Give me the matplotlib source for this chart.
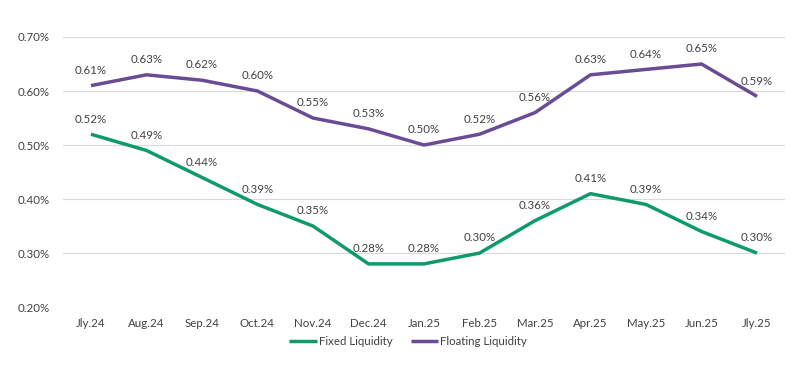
import matplotlib
matplotlib.use('Agg')
import matplotlib.pyplot as plt
from matplotlib.ticker import FuncFormatter

# data
months = ['Jly.24', 'Aug.24', 'Sep.24', 'Oct.24', 'Nov.24', 'Dec.24', 'Jan.25',
          'Feb.25', 'Mar.25', 'Apr.25', 'May.25', 'Jun.25', 'Jly.25']
fixed = [0.52, 0.49, 0.44, 0.39, 0.35, 0.28, 0.28, 0.30, 0.36, 0.41, 0.39, 0.34, 0.30]
floating = [0.61, 0.63, 0.62, 0.60, 0.55, 0.53, 0.50, 0.52, 0.56, 0.63, 0.64, 0.65, 0.59]

green = '#0e9a6c'
purple = '#6a4c94'
text_col = '#404040'

plt.rcParams['font.family'] = ['Lato', 'DejaVu Sans']

fig = plt.figure(figsize=(8, 3.7), dpi=100)
ax = fig.add_axes([0.079, 0.17, 0.902, 0.73])

x = list(range(len(months)))
l1, = ax.plot(x, fixed, color=green, lw=2.5, label='Fixed Liquidity', solid_capstyle='butt')
l2, = ax.plot(x, floating, color=purple, lw=2.5, label='Floating Liquidity', solid_capstyle='butt')

# point labels above each marker
for series in (fixed, floating):
    for xi, v in zip(x, series):
        ax.annotate('%.2f%%' % v, (xi, v), xytext=(0, 7), textcoords='offset points',
                    ha='center', va='bottom', fontsize=8.3, color=text_col)

ax.set_xlim(-0.5, len(months) - 0.5)
ax.set_ylim(0.20, 0.70)
ax.set_yticks([0.20, 0.30, 0.40, 0.50, 0.60, 0.70])
ax.yaxis.set_major_formatter(FuncFormatter(lambda v, p: '%.2f%%' % v))
ax.set_xticks(x)
ax.set_xticklabels(months)
ax.tick_params(axis='both', length=0, labelsize=8.3, colors=text_col)
ax.tick_params(axis='y', pad=10)
ax.tick_params(axis='x', pad=8)
ax.grid(axis='y', color='#d9d9d9', lw=0.8)
ax.set_axisbelow(True)
for s in ax.spines.values():
    s.set_visible(False)

fig.legend(handles=[l1, l2], loc='center', bbox_to_anchor=(0.51, 0.078), ncol=2,
           frameon=False, fontsize=8.3, handlelength=2.4, handletextpad=0.15,
           columnspacing=1.6, labelcolor=text_col)

plt.savefig('out.png', dpi=100)
